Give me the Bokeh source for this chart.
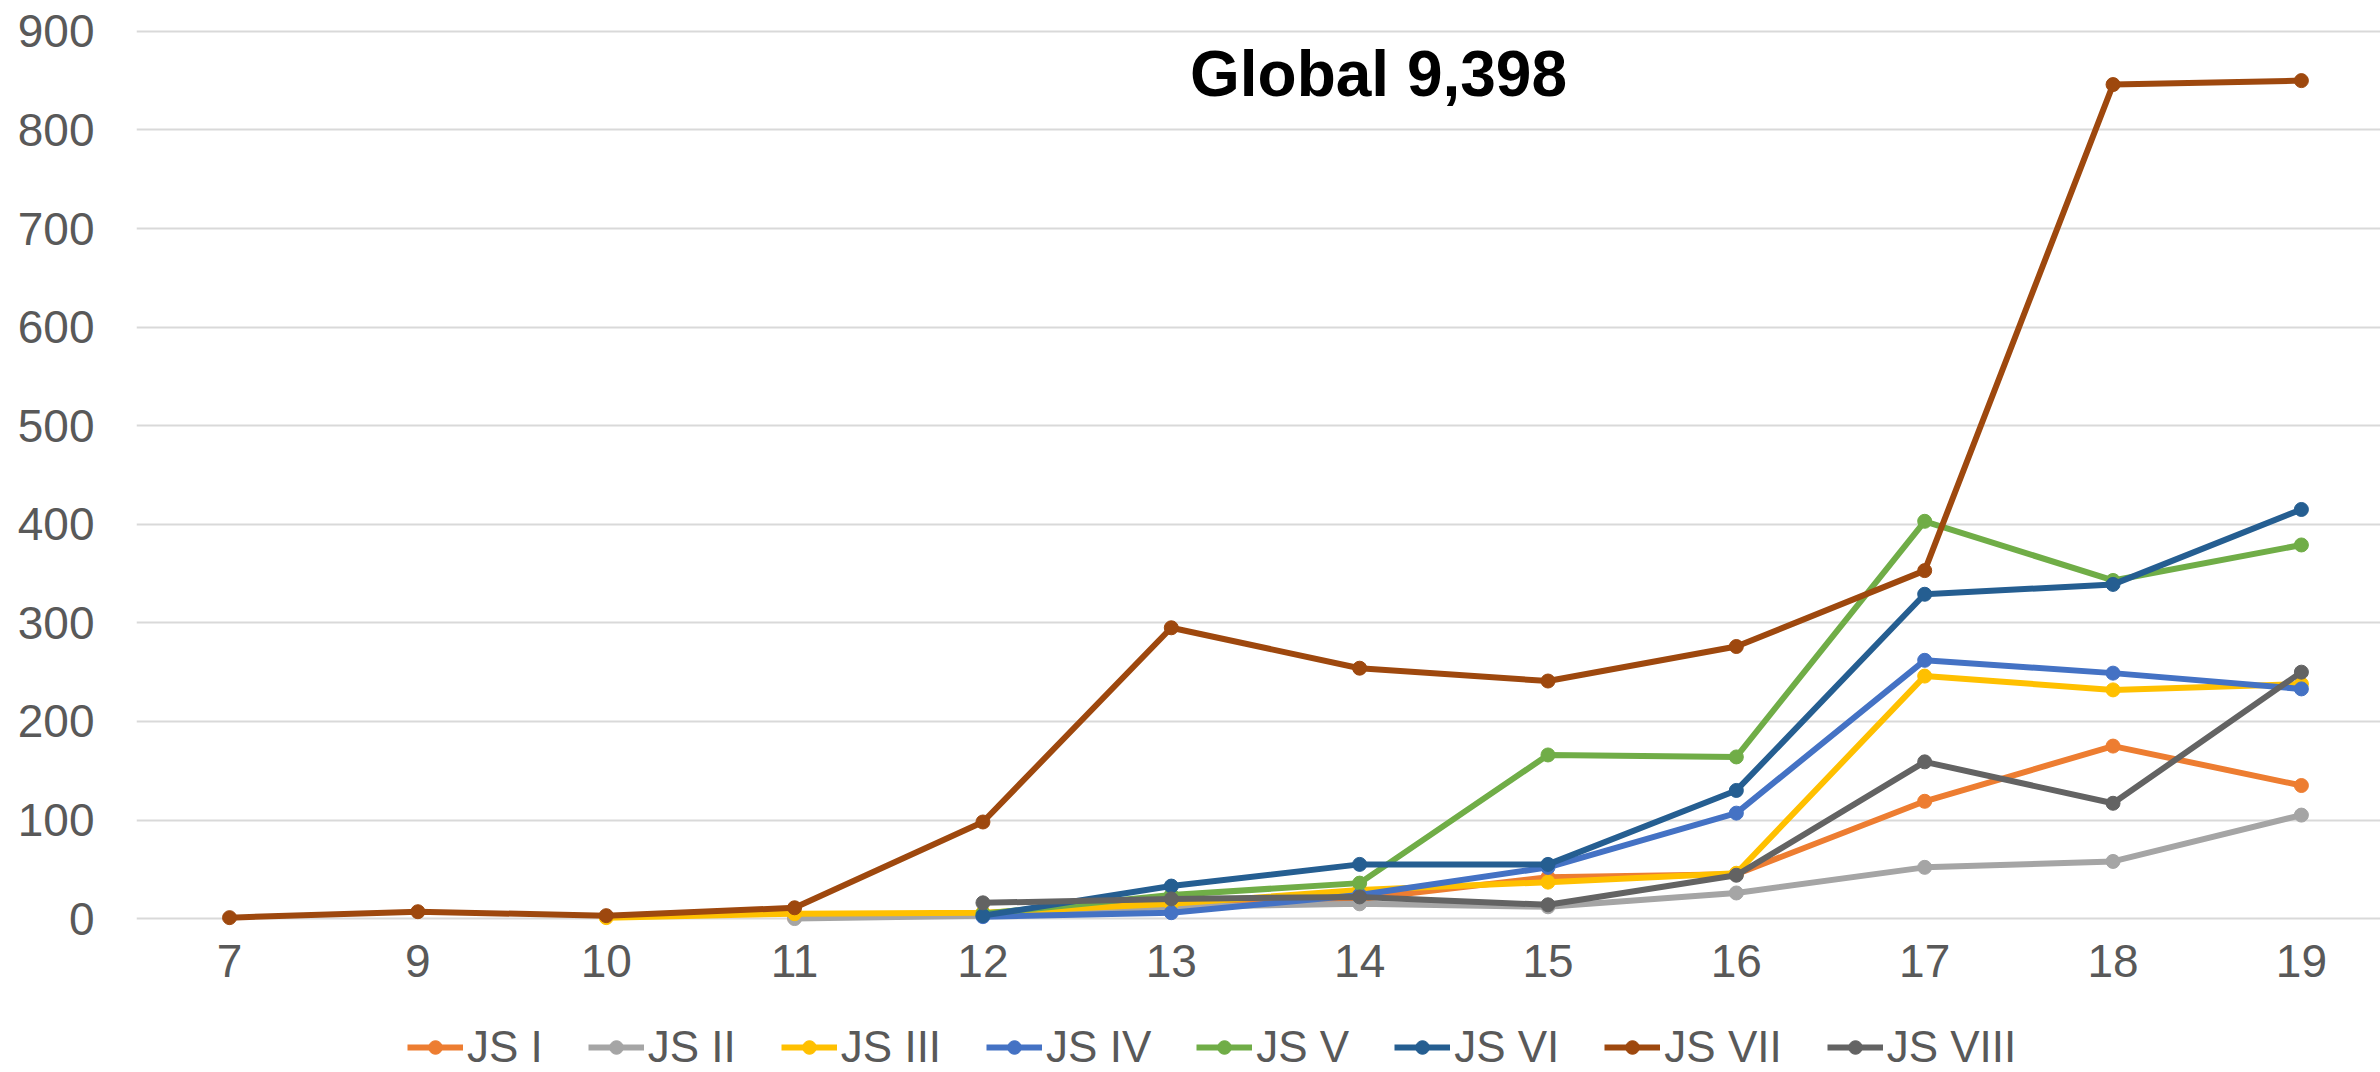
from bokeh.plotting import figure
from bokeh.layouts import column
from bokeh.models import Range1d, FixedTicker, Legend, LegendItem, Label, ColumnDataSource
from bokeh.embed import file_html
from bokeh.resources import INLINE

categories = ["7", "9", "10", "11", "12", "13", "14", "15", "16", "17", "18", "19"]

js_i = [None, None, None, 1, 5, 17, 20, 42, 45, 119, 175, 135]
js_ii = [None, None, None, 0, 3, 12, 15, 12, 26, 52, 58, 105]
js_iii = [None, None, 1, 5, 6, 15, 29, 37, 46, 246, 232, 238]
js_iv = [None, None, None, None, 2, 6, 24, 52, 107, 262, 249, 233]
js_v = [None, None, None, None, 5, 24, 36, 166, 164, 403, 343, 379]
js_vi = [None, None, None, None, 3, 33, 55, 55, 130, 329, 339, 415]
js_vii = [1, 7, 3, 11, 98, 295, 254, 241, 276, 353, 846, 850]
js_viii = [None, None, None, None, 16, 20, 22, 14, 44, 159, 117, 250]

series_names = ["JS I", "JS II", "JS III", "JS IV", "JS V", "JS VI", "JS VII", "JS VIII"]
series_values = [js_i, js_ii, js_iii, js_iv, js_v, js_vi, js_vii, js_viii]
colors = ["#ED7D31", "#A5A5A5", "#FFC000", "#4472C4", "#70AD47", "#255E91", "#9E480E", "#636363"]

title_text = "Global 9,398"
yticks = [0, 100, 200, 300, 400, 500, 600, 700, 800, 900]

FONT = "Liberation Sans"
TXT = "#595959"
LW = 6
MS = 14

p = figure(width=2380, height=998, output_backend="svg", toolbar_location=None,
           x_range=Range1d(-0.494, 11.42), y_range=Range1d(-8, 912),
           min_border_left=136, min_border_right=0, min_border_top=19, min_border_bottom=72)
p.outline_line_color = None
p.background_fill_color = "white"
p.border_fill_color = "white"

p.xgrid.grid_line_color = None
p.ygrid.grid_line_color = "#D9D9D9"
p.ygrid.grid_line_width = 2

idx = list(range(len(categories)))
p.xaxis.ticker = FixedTicker(ticks=idx)
p.xaxis.major_label_overrides = {i: c for i, c in zip(idx, categories)}
p.yaxis.ticker = FixedTicker(ticks=yticks)

for ax in (p.xaxis[0], p.yaxis[0]):
    ax.axis_line_color = None
    ax.major_tick_line_color = None
    ax.minor_tick_line_color = None
    ax.major_tick_out = 0
    ax.major_tick_in = 0
    ax.major_label_text_font = FONT
    ax.major_label_text_font_size = "46px"
    ax.major_label_text_color = TXT
p.yaxis.major_label_standoff = 42
p.xaxis.major_label_standoff = 18

sources = []
for name, vals, col in zip(series_names, series_values, colors):
    xs = [i for i, v in zip(idx, vals) if v is not None]
    ys = [v for v in vals if v is not None]
    src = ColumnDataSource(dict(x=xs, y=ys))
    sources.append(src)
    p.line("x", "y", source=src, line_color=col, line_width=LW)
    p.scatter("x", "y", source=src, size=MS, fill_color=col, line_color=col)

title = Label(x=1242, y=853, x_units="screen", y_units="screen", text=title_text,
              text_font=FONT, text_font_size="64px", text_font_style="bold",
              text_color="black", text_align="center", text_baseline="middle")
p.add_layout(title)

# legend strip: a second figure (same series sources, view range set away from the data)
lg = figure(width=2380, height=74, output_backend="svg", toolbar_location=None,
            x_axis_type=None, y_axis_type=None,
            x_range=Range1d(-1000, -999), y_range=Range1d(-1000, -999),
            min_border_left=0, min_border_right=0, min_border_top=0, min_border_bottom=0)
lg.outline_line_color = None
lg.xgrid.grid_line_color = None
lg.ygrid.grid_line_color = None
items = []
for name, src, col in zip(series_names, sources, colors):
    lr = lg.line("x", "y", source=src, line_color=col, line_width=LW)
    sr = lg.scatter("x", "y", source=src, size=MS, fill_color=col, line_color=col)
    items.append(LegendItem(label=name, renderers=[lr, sr]))
legend = Legend(items=items, orientation="horizontal", location=(271, 0),
                label_text_font=FONT, label_text_font_size="44px", label_text_color=TXT,
                glyph_width=56, glyph_height=34, label_standoff=4, spacing=45,
                padding=0, margin=0, border_line_color=None, background_fill_alpha=0)
lg.add_layout(legend)

layout = column(p, lg, spacing=0)
open("out.html", "w").write(file_html(layout, INLINE))
